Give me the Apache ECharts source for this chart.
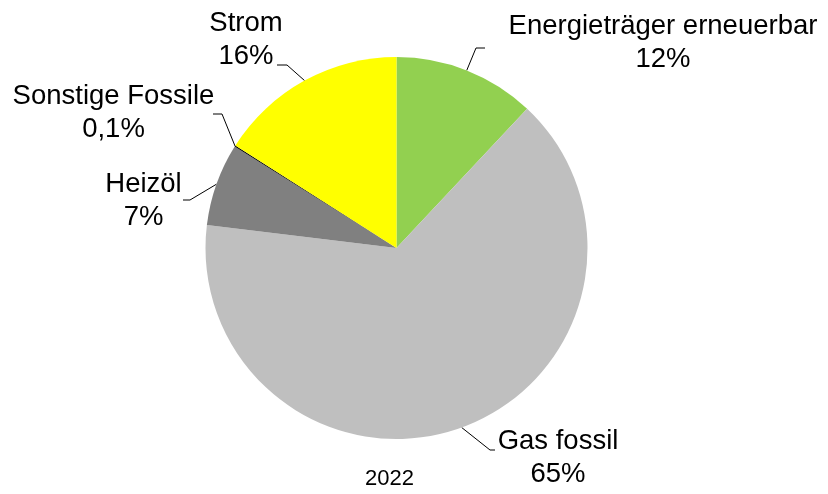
<!DOCTYPE html>
<html>
<head>
<meta charset="utf-8">
<script src="https://cdn.jsdelivr.net/npm/echarts@6/dist/echarts.min.js"></script>
<style>
  html, body { margin: 0; padding: 0; background: #fff; }
  #chart { width: 828px; height: 494px; }
</style>
</head>
<body>
<div id="chart"></div>
<script>
// Energy carriers, share in percent (year 2022)
const categories = ['Energieträger erneuerbar', 'Gas fossil', 'Heizöl', 'Sonstige Fossile', 'Strom'];
const shares = [12, 65, 7, 0.1, 16];
const colors = ['#92D050', '#BFBFBF', '#808080', '#000000', '#FFFF00'];
const yearLabel = '2022';

// Label placement: text block centre, elbow of the leader line, and where it meets the label
const labelPlacement = [
  { x: 663, y: 42.5, elbow: [476, 48], end: [485, 48] },
  { x: 558, y: 458, elbow: [490, 450], end: [495, 450] },
  { x: 143.5, y: 200.5, elbow: [190, 200], end: [183, 200] },
  { x: 113.5, y: 112.5, elbow: [222, 114], end: [213, 114] },
  { x: 246, y: 39.5, elbow: [287, 65], end: [277, 65] }
];

const fmt = v => String(v).replace('.', ',') + '%';

const chart = echarts.init(document.getElementById('chart'), null, { renderer: 'canvas' });

chart.setOption({
  animation: false,
  backgroundColor: '#ffffff',
  textStyle: { fontFamily: 'Liberation Sans, Arial, sans-serif' },
  graphic: [{
    type: 'text',
    left: 365,
    top: 468,
    style: {
      text: yearLabel,
      fontSize: 22,
      fontFamily: 'Liberation Sans, Arial, sans-serif',
      fill: '#000'
    }
  }],
  series: [{
    type: 'pie',
    center: [396.5, 248],
    radius: 191,
    startAngle: 90,
    clockwise: true,
    avoidLabelOverlap: false,
    minShowLabelAngle: 0,
    emphasis: { disabled: true },
    itemStyle: { borderWidth: 0 },
    label: {
      show: true,
      position: 'outside',
      color: '#000',
      fontSize: 27.5,
      lineHeight: 33,
      align: 'center',
      fontFamily: 'Liberation Sans, Arial, sans-serif',
      formatter: p => p.name + '\n' + fmt(p.value)
    },
    labelLine: {
      show: true,
      length: 10,
      length2: 8,
      lineStyle: { color: '#000', width: 1 }
    },
    labelLayout: function (params) {
      const pl = labelPlacement[params.dataIndex];
      const anchor = params.labelLinePoints ? params.labelLinePoints[0] : pl.elbow;
      return {
        x: pl.x,
        y: pl.y,
        align: 'center',
        verticalAlign: 'middle',
        labelLinePoints: [anchor, pl.elbow, pl.end]
      };
    },
    data: categories.map((name, i) => ({
      name: name,
      value: shares[i],
      itemStyle: { color: colors[i] }
    }))
  }]
});
</script>
</body>
</html>
